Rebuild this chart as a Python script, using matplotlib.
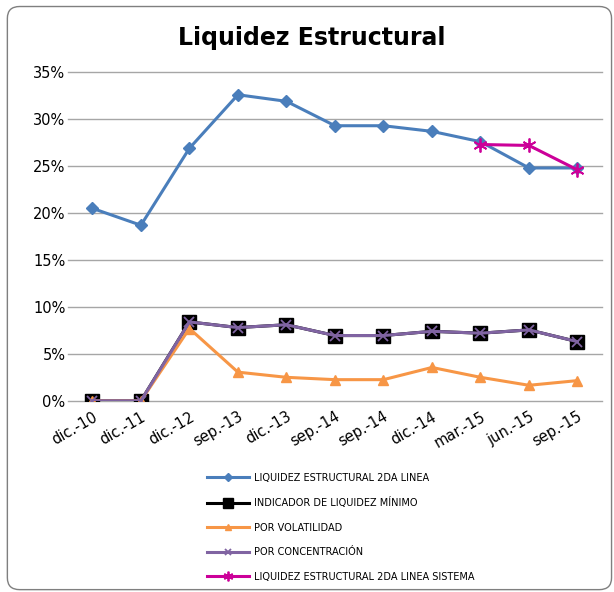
import matplotlib
matplotlib.use("Agg")
import matplotlib.pyplot as plt
from matplotlib.patches import FancyBboxPatch
from matplotlib.ticker import PercentFormatter

fechas = ["dic.-10", "dic.-11", "dic.-12", "sep.-13", "dic.-13", "sep.-14",
          "sep.-14", "dic.-14", "mar.-15", "jun.-15", "sep.-15"]

liq_2da = [20.5, 18.7, 26.9, 32.6, 31.9, 29.3, 29.3, 28.7, 27.6, 24.8, 24.8]
ind_min = [0.0, 0.0, 8.4, 7.8, 8.1, 6.95, 6.95, 7.4, 7.2, 7.55, 6.3]
volatil = [0.0, 0.0, 7.7, 3.05, 2.5, 2.25, 2.25, 3.55, 2.5, 1.65, 2.15]
concent = [0.0, 0.0, 8.4, 7.8, 8.1, 6.95, 6.95, 7.4, 7.2, 7.55, 6.3]
sistema_x = ["mar.-15", "jun.-15", "sep.-15"]
sistema = [27.3, 27.2, 24.6]

fig = plt.figure(figsize=(6.14, 5.92), dpi=100)
ax = fig.add_axes([0.111, 0.323, 0.869, 0.555])

x = list(range(len(fechas)))
xs = [fechas.index(f) for f in sistema_x]

ax.plot(x, liq_2da, color="#4a7ebb", lw=2.2, marker="D", ms=6,
        label="LIQUIDEZ ESTRUCTURAL 2DA LINEA")
ax.plot(x, ind_min, color="black", lw=2.2, marker="s", ms=10,
        label="INDICADOR DE LIQUIDEZ MÍNIMO")
ax.plot(x, volatil, color="#f79646", lw=2.2, marker="^", ms=7,
        label="POR VOLATILIDAD")
ax.plot(x, concent, color="#8064a2", lw=2.2, marker="x", ms=7, mew=1.3,
        label="POR CONCENTRACIÓN")
ax.plot(xs, sistema, color="#cc0099", lw=2.2, marker=(6, 2, 0), ms=10, mew=1.3,
        label="LIQUIDEZ ESTRUCTURAL 2DA LINEA SISTEMA")

ax.set_xlim(-0.5, len(fechas) - 0.5)
ax.set_ylim(0, 35)
ax.set_yticks(range(0, 36, 5))
ax.yaxis.set_major_formatter(PercentFormatter(decimals=0))
ax.set_xticks(x)
ax.set_xticklabels(fechas, rotation=30, ha="right", rotation_mode="anchor")
ax.tick_params(length=0, labelsize=10.5, pad=2)
ax.tick_params(axis="x", pad=6)
ax.grid(axis="y", color="#a6a6a6", lw=1)
for gl in ax.get_ygridlines():
    gl.set_clip_on(False)
ax.set_axisbelow(True)
for s in ax.spines.values():
    s.set_visible(False)

fig.text(0.507, 0.936, "Liquidez Estructural", ha="center", va="center",
         fontsize=17, fontweight="bold")

leg = fig.legend(loc="upper left", bbox_to_anchor=(0.329, 0.21), frameon=False,
                 fontsize=7, handlelength=4.3, labelspacing=1.5, borderpad=0,
                 handletextpad=0.5, markerscale=0.7)

border = FancyBboxPatch((0.012, 0.004), 0.984, 0.985,
                        boxstyle="round,pad=0,rounding_size=0.02",
                        transform=fig.transFigure, fill=False,
                        edgecolor="#7f7f7f", lw=1)
fig.patches.append(border)

fig.savefig("out.png", dpi=100)
